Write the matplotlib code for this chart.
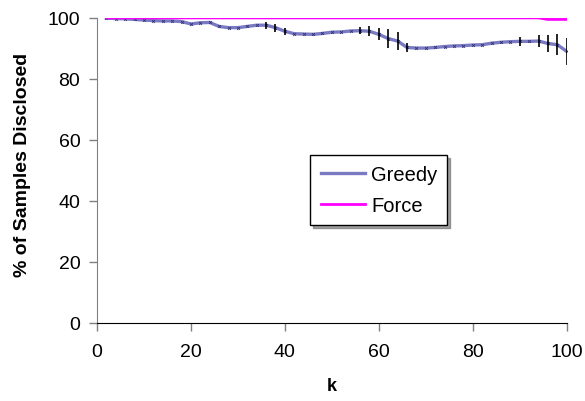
import matplotlib
matplotlib.use("Agg")
import matplotlib.pyplot as plt
import numpy as np

plt.rcParams['font.family'] = ['Liberation Sans', 'DejaVu Sans']

# k values (every second k)
k = [2, 4, 6, 8, 10, 12, 14, 16, 18, 20,
     22, 24, 26, 28, 30, 32, 34, 36, 38, 40,
     42, 44, 46, 48, 50, 52, 54, 56, 58, 60,
     62, 64, 66, 68, 70, 72, 74, 76, 78, 80,
     82, 84, 86, 88, 90, 92, 94, 96, 98, 100]

greedy = [99.9, 99.8, 99.7, 99.5, 99.3, 99.1, 99.0, 99.0, 98.8, 98.0,
          98.4, 98.5, 97.2, 96.8, 96.8, 97.2, 97.6, 97.6, 96.8, 95.6,
          94.8, 94.7, 94.6, 94.9, 95.3, 95.4, 95.7, 95.8, 95.6, 94.6,
          93.2, 92.4, 90.3, 90.1, 90.1, 90.3, 90.6, 90.8, 90.9, 91.1,
          91.2, 91.7, 92.0, 92.2, 92.3, 92.3, 92.4, 91.6, 91.2, 89.0]

greedy_err = [0, 0, 0, 0, 0, 0, 0, 0, 0, 0,
              0, 0, 0, 0, 0, 0, 0, 1.2, 1.3, 1.2,
              0, 0, 0, 0, 0, 0, 0, 1.2, 1.6, 2.0,
              3.2, 3.0, 1.5, 0, 0, 0, 0, 0, 0, 0,
              0, 0, 0, 0, 1.5, 0, 2.0, 2.8, 3.5, 4.5]

force = [100.0] * 47 + [99.5, 99.5, 99.5]

fig = plt.figure(figsize=(5.85, 4.02), dpi=100)
ax = fig.add_axes([0.1658, 0.195, 0.803, 0.758])

ax.errorbar(k, greedy, yerr=greedy_err, fmt='none', ecolor='black',
            elinewidth=1.2, capsize=0, zorder=3)
ax.plot(k, greedy, color='#7a7ac2', lw=2.4, label='Greedy', zorder=2)
ax.plot(k, greedy, color='#30307a', lw=0, marker='x', ms=2, mew=0.6, zorder=2.5)
ax.plot(k, force, color='#ff00ff', lw=2, label='Force', zorder=4)

ax.set_xlim(0, 100)
ax.set_ylim(0, 100)
ax.set_xticks([0, 20, 40, 60, 80, 100])
ax.set_yticks([0, 20, 40, 60, 80, 100])

for s in ['top', 'right']:
    ax.spines[s].set_visible(False)
ax.spines['left'].set_color('#808080')
ax.spines['bottom'].set_color('black')
ax.tick_params(axis='both', direction='out', length=6, width=1,
               color='#808080', labelsize=14, pad=6)
ax.tick_params(axis='x', pad=9)

ax.set_xlabel('k', fontsize=13, fontweight='bold', labelpad=12)
ax.set_ylabel('% of Samples Disclosed', fontsize=14, fontweight='bold')
ax.yaxis.set_label_coords(-0.14, 0.52)

leg = ax.legend(loc='center', bbox_to_anchor=(0.6, 0.435), fontsize=14.5,
                frameon=True, fancybox=False, shadow=True, handlelength=2.2,
                borderpad=0.5, labelspacing=0.6, handletextpad=0.3,
                borderaxespad=0)
leg.get_frame().set_edgecolor('black')
leg.get_frame().set_linewidth(1)

fig.savefig('out.png', dpi=100)
